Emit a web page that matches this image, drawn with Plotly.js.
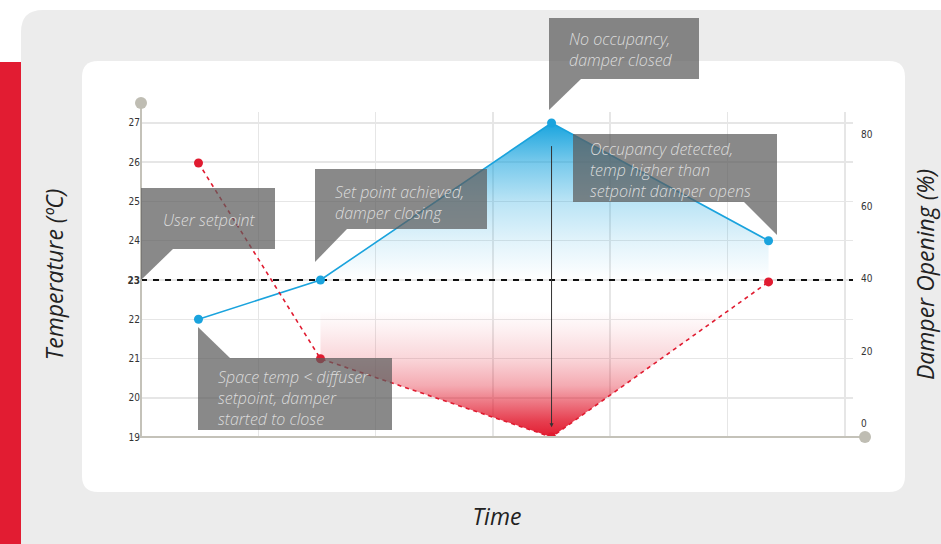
<!DOCTYPE html>
<html>
<head>
<meta charset="utf-8">
<script src="https://cdn.plot.ly/plotly-3.0.1.min.js"></script>
<style>html,body{margin:0;padding:0;background:#fff;}#chart{width:941px;height:544px;}</style>
</head>
<body>
<div id="chart"></div>
<script>
// ---- data ----
const timeX = [0.49, 1.53, 3.5, 5.35];
const spaceTemp = [22, 23, 27, 24];            // blue, temperature (ºC), left axis
const damperPct = [72, 18, -3.6, 39.2];        // red dashed, damper opening (%), right axis
const setpoint = 23;                           // user setpoint (ºC)
const damperAtSetpoint = 40;                   // right-axis level of the setpoint line
const timeRange = [0, 6.07];
const tempRange = [19, 27.28];
const damperRange = [-3.59, 86.07];
const tempTicks = [19, 20, 21, 22, 23, 24, 25, 26, 27];
const tempTickText = ['19', '20', '21', '22', '<b>23</b>', '24', '25', '26', '27'];
const damperTicks = [0, 20, 40, 60, 80];
const damperTickText = ['0', '20', '40', '60', '80'];
const calloutTexts = [
  'User setpoint',
  'Set point achieved,<br>damper closing',
  'No occupancy,<br>damper closed',
  'Occupancy detected,<br>temp higher than<br>setpoint damper opens',
  'Space temp &lt; diffuser<br>setpoint, damper<br>started to close'
];

// ---- pixel helpers (layout only) ----
const L = 141, R = 853, T = 112, B = 437;
const px = x => (x - L) / (R - L);
const py = y => (B - y) / (B - T);
function rrect(x0, y0, x1, y1, r) {
  return `M ${px(x0 + r)},${py(y0)} L ${px(x1 - r)},${py(y0)} Q ${px(x1)},${py(y0)} ${px(x1)},${py(y0 + r)} ` +
         `L ${px(x1)},${py(y1 - r)} Q ${px(x1)},${py(y1)} ${px(x1 - r)},${py(y1)} ` +
         `L ${px(x0 + r)},${py(y1)} Q ${px(x0)},${py(y1)} ${px(x0)},${py(y1 - r)} ` +
         `L ${px(x0)},${py(y0 + r)} Q ${px(x0)},${py(y0)} ${px(x0 + r)},${py(y0)} Z`;
}
function poly(pts) {
  return 'M ' + pts.map(p => `${px(p[0])},${py(p[1])}`).join(' L ') + ' Z';
}
const boxFill = 'rgba(92,92,92,0.72)';
const boxes = [
  {rect: [141, 188, 275, 249], tri: [[141, 249], [173, 249], [141, 280]], tx: 209, ty: 207, center: true},
  {rect: [315, 169, 487, 229], tri: [[315, 229], [347, 229], [315, 262]], tx: 333, ty: 179},
  {rect: [549, 18, 699, 79],   tri: [[549, 79], [581, 79], [549, 110]],   tx: 567, ty: 26},
  {rect: [573, 134, 777, 202], tri: [[744, 202], [777, 202], [777, 235]], tx: 588, ty: 136},
  {rect: [198, 358, 392, 430], tri: [[198, 358], [230, 358], [198, 327]], tx: 216, ty: 364}
];

const shapes = [
  {type: 'path', xref: 'paper', yref: 'paper', layer: 'below', path: rrect(21, 10, 990, 600, 22), fillcolor: '#ececec', line: {width: 0}},
  {type: 'rect', xref: 'paper', yref: 'paper', layer: 'below', x0: px(0), x1: px(21), y0: py(62), y1: py(560), fillcolor: '#e21c32', line: {width: 0}},
  {type: 'path', xref: 'paper', yref: 'paper', layer: 'below', path: rrect(82, 61, 905, 492, 16), fillcolor: '#ffffff', line: {width: 0}},
  // axis lines with end caps
  {type: 'line', xref: 'paper', yref: 'paper', layer: 'above', x0: px(141), x1: px(141), y0: py(103), y1: py(438), line: {color: '#c4c2b9', width: 2}},
  {type: 'line', xref: 'paper', yref: 'paper', layer: 'above', x0: px(141), x1: px(865), y0: py(437), y1: py(437), line: {color: '#c4c2b9', width: 2}},
  {type: 'circle', xref: 'paper', yref: 'paper', layer: 'above', x0: px(135), x1: px(147), y0: py(97), y1: py(109), fillcolor: '#bfbdb3', line: {width: 0}},
  {type: 'circle', xref: 'paper', yref: 'paper', layer: 'above', x0: px(859), x1: px(871), y0: py(431), y1: py(443), fillcolor: '#bfbdb3', line: {width: 0}}
];
const annotations = [];
boxes.forEach((b, i) => {
  shapes.push({type: 'rect', xref: 'paper', yref: 'paper', layer: 'above', x0: px(b.rect[0]), x1: px(b.rect[2]), y0: py(b.rect[1]), y1: py(b.rect[3]), fillcolor: boxFill, line: {width: 0}});
  shapes.push({type: 'path', xref: 'paper', yref: 'paper', layer: 'above', path: poly(b.tri), fillcolor: boxFill, line: {width: 0}});
  annotations.push({
    xref: 'paper', yref: 'paper', x: px(b.tx), y: py(b.ty),
    xanchor: b.center ? 'center' : 'left', yanchor: 'top', align: 'left', showarrow: false,
    text: calloutTexts[i],
    font: {family: 'Open Sans, sans-serif', size: 16, color: '#dcdcdc', style: 'italic', weight: 300}
  });
});
// vertical arrow at the peak
annotations.push({
  x: timeX[2], y: 19.25, ax: timeX[2], ay: 26.45, xref: 'x', yref: 'y', axref: 'x', ayref: 'y',
  showarrow: true, arrowhead: 2, arrowsize: 0.8, arrowwidth: 1, arrowcolor: '#333', text: ''
});

const blue = a => `rgba(25,164,222,${a})`;
const red = a => `rgba(226,28,48,${a})`;
const redX = timeX.slice(1);
const traces = [
  // blue gradient fill under the space-temperature line
  {x: redX, y: spaceTemp.slice(1), type: 'scatter', mode: 'none', fill: 'tozeroy',
   fillgradient: {type: 'vertical', start: 23, stop: 27,
     colorscale: [[0, blue(0)], [0.25, blue(0.13)], [0.5, blue(0.3)], [0.75, blue(0.59)], [1, blue(1)]]},
   hoverinfo: 'skip'},
  // red gradient fill between damper curve and the setpoint level
  {x: redX.concat(redX.slice().reverse()),
   y: damperPct.slice(1).concat(redX.map(() => damperAtSetpoint)),
   yaxis: 'y2', type: 'scatter', mode: 'none', fill: 'toself',
   fillgradient: {type: 'vertical', start: -3.6, stop: 31.1,
     colorscale: [[0, red(1)], [0.125, red(0.85)], [0.41, red(0.37)], [0.625, red(0.18)], [0.84, red(0.07)], [1, red(0)]]},
   hoverinfo: 'skip'},
  // user setpoint reference line
  {x: timeRange, y: timeRange.map(() => setpoint), type: 'scatter', mode: 'lines', name: 'User setpoint',
   line: {color: '#111', width: 2, dash: '6px,6px'}, hoverinfo: 'skip'},
  {x: timeX, y: damperPct, yaxis: 'y2', type: 'scatter', mode: 'lines+markers', name: 'Damper opening',
   line: {color: '#e01b30', width: 1.6, dash: '4px,4px'}, marker: {color: '#e01b30', size: 9}},
  {x: timeX, y: spaceTemp, type: 'scatter', mode: 'lines+markers', name: 'Space temperature',
   line: {color: '#1aa3dd', width: 1.6}, marker: {color: '#1aa3dd', size: 9}}
];

const tickFont = {family: 'Liberation Sans Narrow, DejaVu Sans Condensed, sans-serif', size: 10, color: '#333'};
const titleFont = {family: 'Open Sans, sans-serif', size: 23, color: '#222', style: 'italic'};
const layout = {
  width: 941, height: 544,
  margin: {l: L, r: 941 - R, t: T, b: 544 - B, pad: 0},
  paper_bgcolor: '#ffffff', plot_bgcolor: 'rgba(0,0,0,0)',
  showlegend: false,
  xaxis: {range: timeRange, tick0: 0, dtick: 1, showgrid: true, gridcolor: '#e6e6e6', gridwidth: 1.5,
          showticklabels: false, ticks: '', zeroline: false, showline: false,
          title: {text: 'Time', font: titleFont, standoff: 71}},
  yaxis: {range: tempRange, tickvals: tempTicks, ticktext: tempTickText, showgrid: true,
          gridcolor: '#e6e6e6', gridwidth: 1.5, zeroline: false, showline: false, ticks: '',
          tickfont: tickFont,
          title: {text: 'Temperature (ºC)', font: titleFont, standoff: 57}},
  yaxis2: {overlaying: 'y', side: 'right', range: damperRange, tickvals: damperTicks, ticktext: damperTickText,
           showgrid: false, zeroline: false, showline: false, ticks: '', tickfont: tickFont,
           ticklabelstandoff: 7,
           title: {text: 'Damper Opening (%)', font: titleFont, standoff: 63}},
  shapes: shapes,
  annotations: annotations
};
Plotly.newPlot('chart', traces, layout, {displayModeBar: false, staticPlot: true});
</script>
</body>
</html>
